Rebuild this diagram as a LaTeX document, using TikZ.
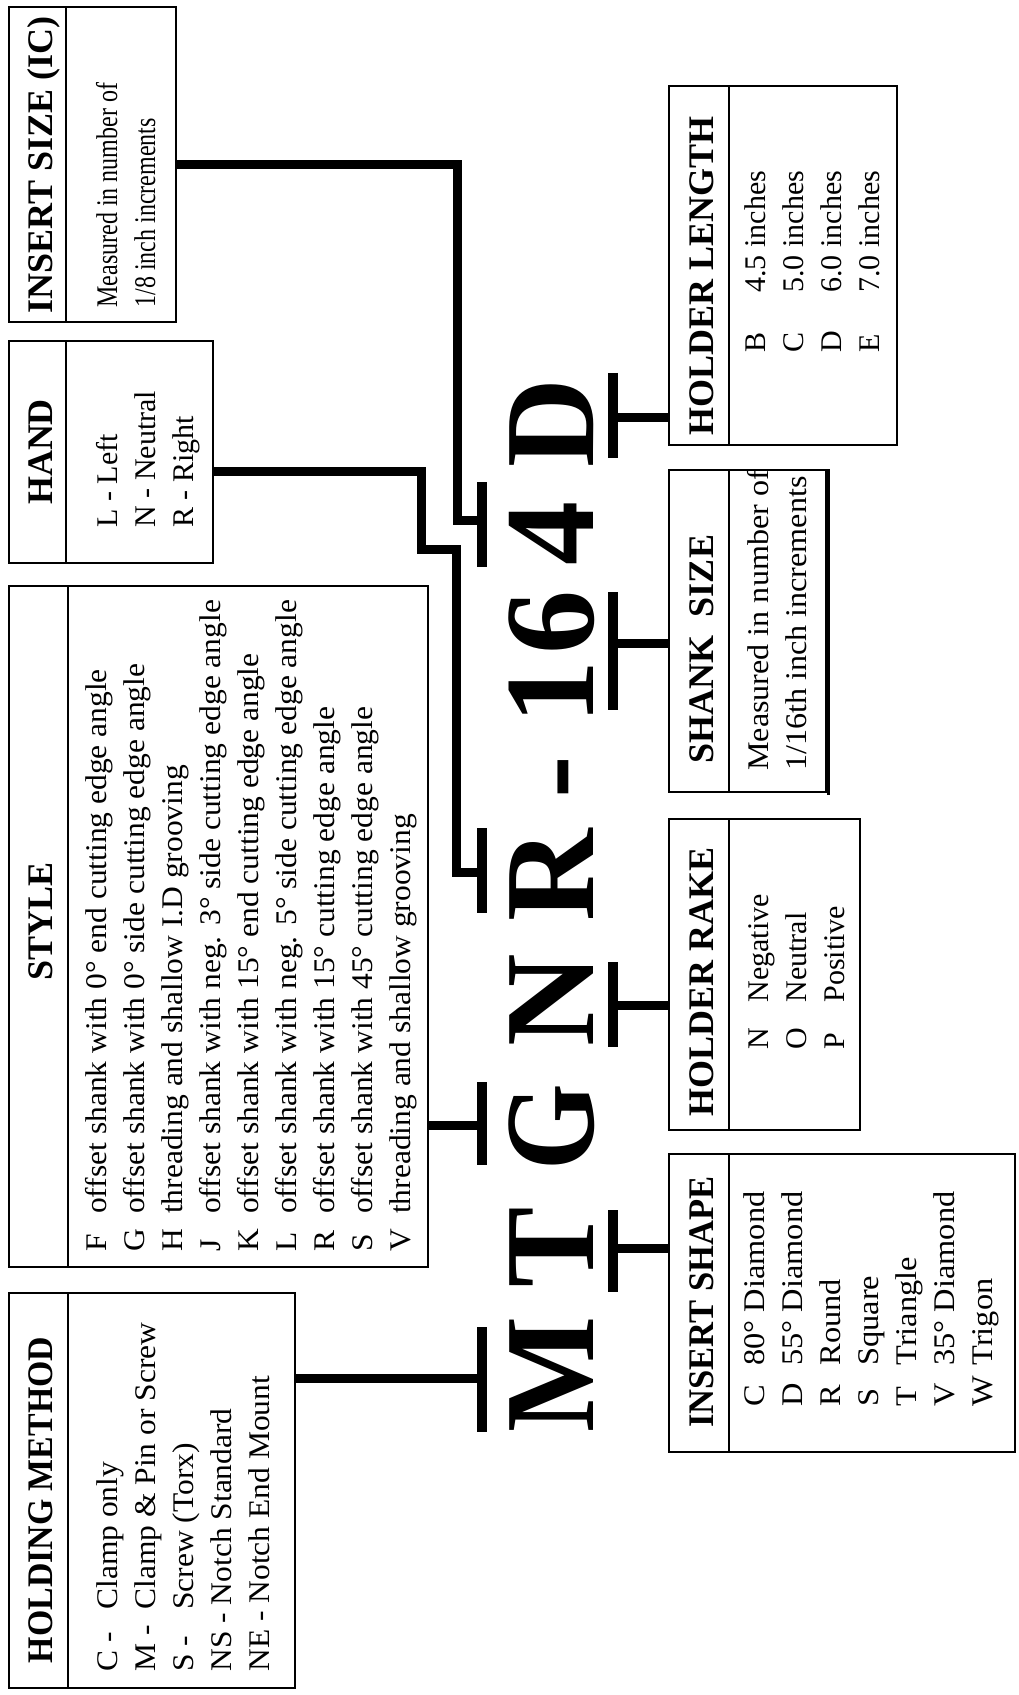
\documentclass[tikz,border=0pt]{standalone}
\usepackage{fontspec}
\setmainfont{Liberation Serif}
\begin{document}
\begin{tikzpicture}[x=0.5pt,y=-0.5pt,
 box/.style={draw, line width=0.9pt, rectangle, inner sep=0pt},
 ttl/.style={rotate=90, anchor=base, inner sep=0pt, font=\fontsize{18}{18}\selectfont\bfseries},
 body/.style={rotate=90, anchor=base west, inner sep=0pt, font=\fontsize{15}{19}\selectfont},
 big/.style={rotate=90, anchor=base, inner sep=0pt, font=\fontsize{64}{64}\selectfont\bfseries},
 conn/.style={line width=4.5pt, line join=miter},
 barline/.style={line width=5pt},
 divl/.style={line width=0.9pt}]
\useasboundingbox (0,0) rectangle (1018,1695);
\fill[white] (0,0) rectangle (1018,1695);

% ---------- boxes ----------
\node[box, minimum width=83.5pt, minimum height=157.5pt] (isz) at (92.5,164.5) {};
\node[box, minimum width=102pt, minimum height=111pt] (hand) at (111,452) {};
\node[box, minimum width=209.5pt, minimum height=340.5pt] (sty) at (218.5,926.5) {};
\node[box, minimum width=143pt, minimum height=197.5pt] (hm) at (152,1490.5) {};
\node[box, minimum width=114pt, minimum height=179.5pt] (hl) at (783,265.5) {};
\node[box, minimum width=78.5pt, minimum height=161pt] (shk) at (747.5,631) {};
\node[box, minimum width=95.5pt, minimum height=155.5pt] (rake) at (764.5,974.5) {};
\node[box, minimum width=173pt, minimum height=149pt] (shp) at (842,1303) {};

% dividers
\draw[divl] ([xshift=29pt]isz.north west) -- ([xshift=29pt]isz.south west);
\draw[divl] ([xshift=29pt]hand.north west) -- ([xshift=29pt]hand.south west);
\draw[divl] ([xshift=30pt]sty.north west) -- ([xshift=30pt]sty.south west);
\draw[divl] ([xshift=30pt]hm.north west) -- ([xshift=30pt]hm.south west);
\draw[divl] ([xshift=30.5pt]hl.north west) -- ([xshift=30.5pt]hl.south west);
\draw[divl] ([xshift=30.5pt]shk.north west) -- ([xshift=30.5pt]shk.south west);
\draw[divl] ([xshift=30.5pt]rake.north west) -- ([xshift=30.5pt]rake.south west);
\draw[divl] ([xshift=30.5pt]shp.north west) -- ([xshift=30.5pt]shp.south west);
\draw[line width=1.5pt] ([xshift=1pt]shk.north east) -- ([xshift=1pt,yshift=-1pt]shk.south east);

% ---------- titles ----------
\node[ttl] (t-isz) at (52,165) {INSERT SIZE (IC)};
\node[ttl] (t-hand) at (52,452) {HAND};
\node[ttl] (t-sty) at (52,921) {STYLE};
\node[ttl] (t-hm) at (52,1500) {\scalebox{0.94}[1]{HOLDING METHOD}};
\node[ttl] (t-hl) at (713,276) {HOLDER LENGTH};
\node[ttl] (t-shk) at (713,649) {SHANK\ \ SIZE};
\node[ttl] (t-rake) at (713,982) {HOLDER RAKE};
\node[ttl] (t-shp) at (713,1302) {\scalebox{0.96}[1]{INSERT SHAPE}};

% ---------- bodies ----------
\node[body] (b-isz) at (117,308) {\scalebox{0.8}[1]{\begin{tabular}[t]{@{}l@{}}Measured in number of\\1/8 inch increments\end{tabular}}};
\node[body] (b-hand) at (117,528) {\begin{tabular}[t]{@{}l@{}}L - Left\\N - Neutral\\R - Right\end{tabular}};
\node[body] (b-sty) at (106,1252) {\scalebox{1.05}[1]{\begin{tabular}[t]{@{}l@{}}
\makebox[18pt][l]{F}offset shank with 0° end cutting edge angle\\
\makebox[18pt][l]{G}offset shank with 0° side cutting edge angle\\
\makebox[18pt][l]{H}threading and shallow I.D grooving\\
\makebox[18pt][l]{J}offset shank with neg. 3° side cutting edge angle\\
\makebox[18pt][l]{K}offset shank with 15° end cutting edge angle\\
\makebox[18pt][l]{L}offset shank with neg. 5° side cutting edge angle\\
\makebox[18pt][l]{R}offset shank with 15° cutting edge angle\\
\makebox[18pt][l]{S}offset shank with 45° cutting edge angle\\
\makebox[18pt][l]{V}threading and shallow grooving\end{tabular}}};
\node[body] (b-hm) at (117,1672) {\scalebox{1.05}[1]{\begin{tabular}[t]{@{}l@{}}
\makebox[29.5pt][l]{C -}Clamp only\\
\makebox[29.5pt][l]{M -}Clamp \& Pin or Screw\\
\makebox[29.5pt][l]{S -}Screw (Torx)\\
NS - Notch Standard\\
NE - Notch End Mount\end{tabular}}};
\node[body] (b-hl) at (765,353) {\begin{tabular}[t]{@{}l@{}}
\makebox[30pt][l]{B}4.5 inches\\
\makebox[30pt][l]{C}5.0 inches\\
\makebox[30pt][l]{D}6.0 inches\\
\makebox[30pt][l]{E}7.0 inches\end{tabular}};
\node[body] (b-shk) at (768,771) {\scalebox{1.07}[1]{\begin{tabular}[t]{@{}l@{}}Measured in number of\\1/16th inch increments\end{tabular}}};
\node[body] (b-rake) at (768,1050) {\begin{tabular}[t]{@{}l@{}}
\makebox[23.5pt][l]{N}Negative\\
\makebox[23.5pt][l]{O}Neutral\\
\makebox[23.5pt][l]{P}Positive\end{tabular}};
\node[body] (b-shp) at (764,1407) {\scalebox{1.08}[1]{\begin{tabular}[t]{@{}l@{}}
\makebox[19pt][l]{C}80° Diamond\\
\makebox[19pt][l]{D}55° Diamond\\
\makebox[19pt][l]{R}Round\\
\makebox[19pt][l]{S}Square\\
\makebox[19pt][l]{T}Triangle\\
\makebox[19pt][l]{V}35° Diamond\\
\makebox[19pt][l]{W}Trigon\end{tabular}}};

% ---------- big code letters ----------
\node[big] (lM) at (593,1374) {\scalebox{0.96}[1]{M}};
\node[big] (lT) at (593,1247) {\scalebox{0.94}[1]{T}};
\node[big] (lG) at (593,1127) {\scalebox{0.87}[1]{G}};
\node[big] (lN) at (593,1000) {N};
\node[big] (lR) at (593,875) {R};
\node[big] (lDash) at (593,777) {-};
\node[big] (l1) at (593,692) {1};
\node[big] (l6) at (593,622) {6};
\node[big] (l4) at (593,533) {4};
\node[big] (lD) at (593,423) {\scalebox{0.96}[1]{D}};

% ---------- bars (T ends) ----------
\coordinate (bM) at (482,1378); \coordinate (bM1) at (482,1327); \coordinate (bM2) at (482,1432);
\coordinate (bT) at (613,1248); \coordinate (bT1) at (613,1210); \coordinate (bT2) at (613,1292);
\coordinate (bG) at (482,1125); \coordinate (bG1) at (482,1082); \coordinate (bG2) at (482,1165);
\coordinate (bN) at (613,1005); \coordinate (bN1) at (613,962); \coordinate (bN2) at (613,1047);
\coordinate (bR) at (482,872); \coordinate (bR1) at (482,828); \coordinate (bR2) at (482,913);
\coordinate (b16) at (613,643); \coordinate (b161) at (613,592); \coordinate (b162) at (613,710);
\coordinate (b4) at (482,520); \coordinate (b41) at (482,482); \coordinate (b42) at (482,567);
\coordinate (bD) at (613,418); \coordinate (bD1) at (613,373); \coordinate (bD2) at (613,458);

\foreach \b in {bM,bT,bG,bN,bR,b16,b4,bD} {\draw[barline] (\b1) -- (\b2);}

% ---------- connectors ----------
\draw[conn] (hm.east |- bM) -- (bM);
\draw[conn] (sty.east |- bG) -- (bG);
\draw[conn] (bT) -- (shp.west |- bT);
\draw[conn] (bN) -- (rake.west |- bN);
\draw[conn] (b16) -- (shk.west |- b16);
\draw[conn] (bD) -- (hl.west |- bD);

\coordinate (h1) at (421,471); \coordinate (h2) at (421,549);
\coordinate (h3) at (456,549); \coordinate (h4) at (456,872);
\draw[conn] (hand.east |- h1) -- (h1) -- (h2) -- (h3) -- (h4) -- (bR);

\coordinate (s1) at (457,165); \coordinate (s2) at (457,520);
\draw[conn] (isz.east |- s1) -- (s1) -- (s2) -- (b4);
\end{tikzpicture}
\end{document}
